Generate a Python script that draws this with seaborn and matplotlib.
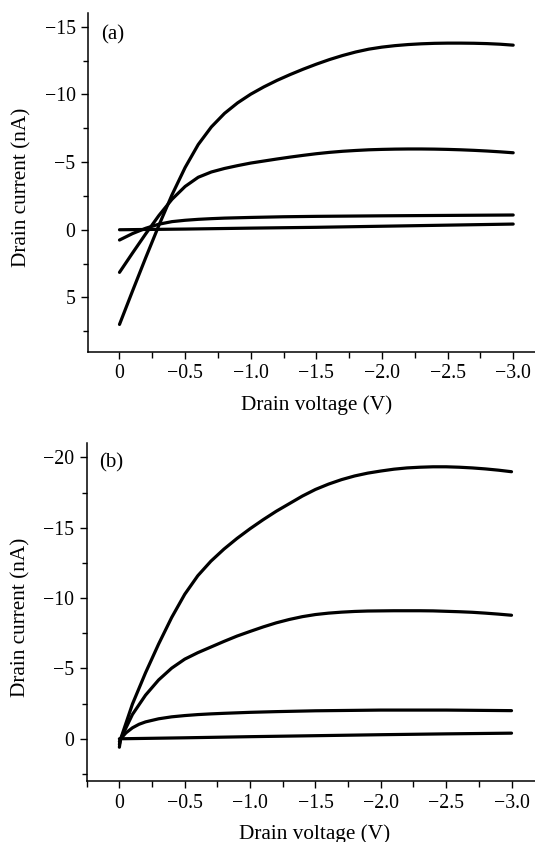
import numpy as np
import pandas as pd
import matplotlib
matplotlib.use("Agg")
import matplotlib.pyplot as plt
import seaborn as sns
import matplotlib.ticker as ticker

# ---- panel (a) : drain voltage (V) vs drain current (nA), four curves
va = [0, -0.1, -0.2, -0.3, -0.4, -0.5, -0.6, -0.7, -0.8, -0.9, -1.0, -1.1, -1.2, -1.3, -1.4,
      -1.5, -1.6, -1.7, -1.8, -1.9, -2.0, -2.1, -2.2, -2.3, -2.4, -2.5, -2.6, -2.7, -2.8, -2.9, -3.0]
a1 = [7.0, 4.51, 2.06, -0.32, -2.58, -4.6, -6.3, -7.6, -8.6, -9.38, -10.02, -10.56, -11.04,
      -11.47, -11.87, -12.24, -12.58, -12.88, -13.14, -13.35, -13.5, -13.61, -13.69, -13.745,
      -13.78, -13.795, -13.795, -13.785, -13.76, -13.715, -13.645]
a2 = [3.15, 1.71, 0.30, -1.05, -2.25, -3.2, -3.88, -4.27, -4.53, -4.74, -4.93, -5.08, -5.23,
      -5.37, -5.5, -5.62, -5.72, -5.8, -5.86, -5.91, -5.94, -5.96, -5.97, -5.97, -5.96, -5.94,
      -5.91, -5.87, -5.82, -5.76, -5.69]
va3 = [0, -0.1, -0.2, -0.3, -0.4, -0.5, -0.6, -0.7, -0.8, -1.0, -1.25, -1.5, -2.0, -2.5, -3.0]
a3 = [0.76, 0.28, -0.11, -0.41, -0.6, -0.7, -0.77, -0.82, -0.86, -0.91, -0.96, -0.99, -1.03, -1.06, -1.09]
va4 = [0, -0.5, -1.0, -1.5, -2.0, -2.5, -3.0]
a4 = [0.0, -0.05, -0.12, -0.18, -0.26, -0.34, -0.42]

# ---- panel (b)
vb = [0, -0.01, -0.1, -0.2, -0.3, -0.4, -0.5, -0.6, -0.7, -0.8, -0.9, -1.0, -1.1, -1.2, -1.3,
      -1.4, -1.5, -1.6, -1.7, -1.8, -1.9, -2.0, -2.1, -2.2, -2.3, -2.4, -2.5, -2.6, -2.7, -2.8,
      -2.9, -3.0]
b1 = [0.6, 0.0, -2.47, -4.69, -6.73, -8.62, -10.27, -11.59, -12.62, -13.48, -14.24, -14.93,
      -15.57, -16.17, -16.71, -17.25, -17.72, -18.1, -18.42, -18.68, -18.88, -19.03, -19.16,
      -19.25, -19.3, -19.33, -19.33, -19.3, -19.25, -19.18, -19.09, -18.98]
b2 = [0.4, 0.0, -1.73, -3.1, -4.18, -5.02, -5.66, -6.12, -6.52, -6.92, -7.3, -7.63, -7.95,
      -8.24, -8.48, -8.68, -8.83, -8.93, -9.0, -9.05, -9.08, -9.09, -9.1, -9.1, -9.1, -9.09,
      -9.06, -9.03, -8.99, -8.93, -8.86, -8.78]
vb3 = [0, -0.01, -0.05, -0.1, -0.15, -0.2, -0.3, -0.4, -0.5, -0.6, -0.7, -0.8, -1.0, -1.2,
       -1.5, -2.0, -2.5, -3.0]
b3 = [0.2, 0.0, -0.42, -0.78, -1.03, -1.2, -1.42, -1.56, -1.65, -1.72, -1.77, -1.81, -1.88,
      -1.93, -1.99, -2.04, -2.04, -2.0]
vb4 = [0, -0.5, -1.0, -1.5, -2.0, -2.5, -3.0]
b4 = [0.0, -0.07, -0.15, -0.22, -0.29, -0.35, -0.4]

x_ticks = [0, -0.5, -1.0, -1.5, -2.0, -2.5, -3.0]
x_labels = ['0', '\u22120.5', '\u22121.0', '\u22121.5', '\u22122.0', '\u22122.5', '\u22123.0']
ya_ticks = [-15, -10, -5, 0, 5]
ya_labels = ['\u221215', '\u221210', '\u22125', '0', '5']
yb_ticks = [-20, -15, -10, -5, 0]
yb_labels = ['\u221220', '\u221215', '\u221210', '\u22125', '0']


def long_df(curves):
    rows = []
    for k, (v, i) in enumerate(curves):
        rows.append(pd.DataFrame({'V': v, 'I': i, 'curve': k}))
    return pd.concat(rows, ignore_index=True)


df_a = long_df([(va, a1), (va, a2), (va3, a3), (va4, a4)])
df_b = long_df([(vb, b1), (vb, b2), (vb3, b3), (vb4, b4)])

sns.set_theme(style="ticks")
plt.rcParams['font.family'] = ['Liberation Serif', 'DejaVu Serif']
plt.rcParams['axes.linewidth'] = 1.1

fig = plt.figure(figsize=(5.35, 8.42), dpi=100)
ax_a = fig.add_axes([88 / 535, 1 - 351.5 / 842, 458 / 535, 338.2 / 842])
ax_b = fig.add_axes([86.7 / 535, 1 - 781 / 842, 457.5 / 535, 337.7 / 842])

panels = [
    (ax_a, df_a, (0.24, -3.25), (9, -16), ya_ticks, ya_labels, '(a)', 0.935),
    (ax_b, df_b, (0.25, -3.25), (3, -21), yb_ticks, yb_labels, '(b)', 0.943),
]

for ax, df, xl, yl, yt, ytl, tag, tag_y in panels:
    sns.lineplot(data=df, x='V', y='I', hue='curve', units='curve', estimator=None,
                 palette=['black'] * 4, linewidth=2.3, legend=False, ax=ax, sort=False)
    ax.set_xlim(*xl)
    ax.set_ylim(*yl)
    ax.xaxis.set_major_locator(ticker.FixedLocator(x_ticks))
    ax.xaxis.set_major_formatter(ticker.FixedFormatter(x_labels))
    ax.xaxis.set_minor_locator(ticker.MultipleLocator(0.25))
    ax.yaxis.set_major_locator(ticker.FixedLocator(yt))
    ax.yaxis.set_major_formatter(ticker.FixedFormatter(ytl))
    ax.yaxis.set_minor_locator(ticker.MultipleLocator(2.5))
    ax.tick_params(axis='both', which='major', direction='out', length=5, width=1,
                   labelsize=14.3, pad=4, color='black', labelcolor='black')
    ax.tick_params(axis='both', which='minor', direction='out', length=3.5, width=1,
                   color='black')
    ax.tick_params(axis='x', which='minor', length=4.5)
    sns.despine(ax=ax)
    ax.spines['left'].set_color('black')
    ax.spines['bottom'].set_color('black')
    ax.set_xlabel('Drain voltage (V)', fontsize=15.3, color='black')
    ax.set_ylabel('Drain current (nA)', fontsize=15.3, color='black')
    ax.xaxis.set_label_coords(0.498, -0.128)
    ax.yaxis.set_label_coords(-0.123, 0.486)
    ax.text(0.028, tag_y, tag, transform=ax.transAxes, fontsize=15,
            ha='left', va='center', color='black')

fig.savefig('out.png', dpi=100)
